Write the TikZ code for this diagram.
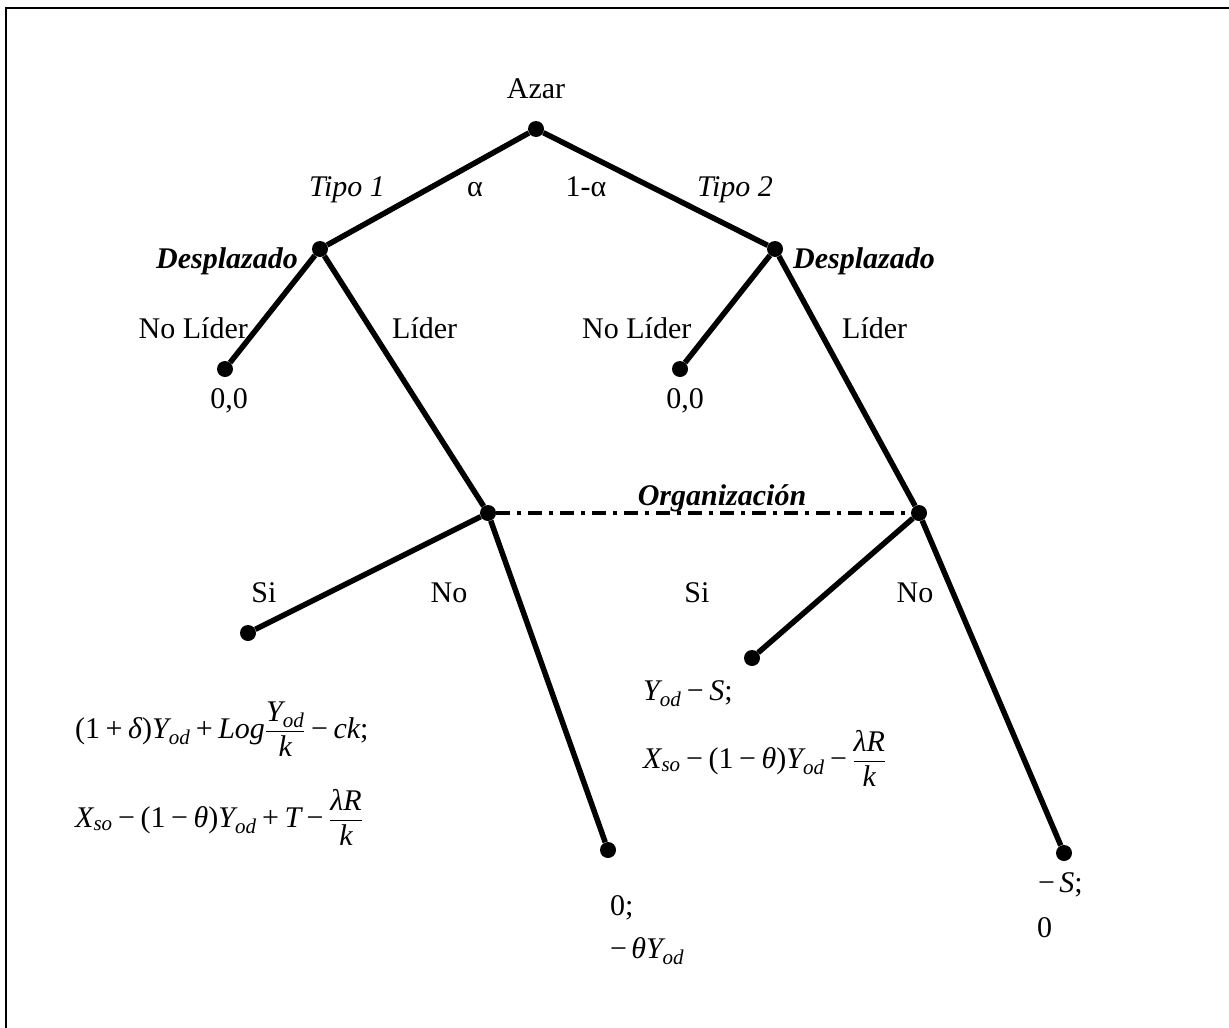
\documentclass[tikz,border=0pt]{standalone}
\usepackage{amsmath}
\usepackage{fontspec}
\setmainfont{Liberation Serif}
\newcommand{\ti}[1]{\textit{#1}}
\newcommand{\mmin}{\mathbin{\text{−}}}
\newcommand{\mplus}{\mathbin{\text{+}}}
\tikzset{
  dot/.style={circle,fill=black,draw=none,inner sep=0pt,minimum size=16pt},
  edge/.style={line width=5.5pt},
  lbl/.style={inner sep=0pt,font=\fontsize{30}{36}\selectfont},
  plbl/.style={lbl,font=\fontsize{30}{36}\selectfont\bfseries\itshape},
  frameline/.style={line width=2pt},
  infoset/.style={line width=3.5pt,dash pattern=on 14pt off 7pt on 4pt off 7pt}
}
\begin{document}
\begin{tikzpicture}[x=1pt,y=-1pt]
\useasboundingbox (0,0) rectangle (1229,1028);
\draw[frameline] (6,1028) -- (6,8) -- (1229,8);
% decision nodes
\node[dot] (root) at (536,129) {};
\node[dot] (d1) at (320,249) {};
\node[dot] (d2) at (775,249) {};
\node[dot] (l1) at (225,369) {};
\node[dot] (l2) at (680,369) {};
\node[dot] (o1) at (488,513) {};
\node[dot] (o2) at (919,513) {};
\node[dot] (s1) at (248,633) {};
\node[dot] (n1) at (608,850) {};
\node[dot] (s2) at (752,658) {};
\node[dot] (n2) at (1064,853) {};
% edges
\draw[edge] (root) -- (d1);
\draw[edge] (root) -- (d2);
\draw[edge] (d1) -- (l1);
\draw[edge] (d1) -- (o1);
\draw[edge] (d2) -- (l2);
\draw[edge] (d2) -- (o2);
\draw[edge] (o1) -- (s1);
\draw[edge] (o1) -- (n1);
\draw[edge] (o2) -- (s2);
\draw[edge] (o2) -- (n2);
\draw[infoset] (o1) -- (o2);
% labels
\node[lbl,anchor=base] (azar) at (536,98) {Azar};
\node[lbl,anchor=base] (tipo1) at (347,196) {\itshape Tipo 1};
\node[lbl,anchor=base] (alpha) at (475,196) {α};
\node[lbl,anchor=base] (ualpha) at (586,196) {1-α};
\node[lbl,anchor=base] (tipo2) at (735,196) {\itshape Tipo 2};
\node[plbl,anchor=base east] (desp1) at (298,268) {Desplazado};
\node[plbl,anchor=base west] (desp2) at (793,268) {Desplazado};
\node[lbl,anchor=base east] (nl1) at (248,338) {No Líder};
\node[lbl,anchor=base west] (li1) at (392,338) {Líder};
\node[lbl,anchor=base west] (nl2) at (582,338) {No Líder};
\node[lbl,anchor=base west] (li2) at (842,338) {Líder};
\node[lbl,anchor=base] (p1) at (229,408) {0,0};
\node[lbl,anchor=base] (p2) at (685,408) {0,0};
\node[plbl,anchor=base] (org) at (722,505) {Organización};
\node[lbl,anchor=base] (si1) at (264,602) {Si};
\node[lbl,anchor=base] (no1) at (449,602) {No};
\node[lbl,anchor=base] (si2) at (697,602) {Si};
\node[lbl,anchor=base] (no2) at (915,602) {No};
% payoffs
\node[lbl,anchor=base west] (pa1) at (75,738)
 {$\text{(1}\mplus\ti{δ}\text{)}\ti{Y}_{\ti{od}}\mplus\ti{Log}\dfrac{\ti{Y}_{\ti{od}}}{\ti{k}}\mmin\ti{ck}\text{;}$};
\node[lbl,anchor=base west] (pa2) at (75,827)
 {$\ti{X}_{\ti{so}}\mmin\text{(1}\mmin\ti{θ}\text{)}\ti{Y}_{\ti{od}}\mplus\ti{T}\mmin\dfrac{\ti{λR}}{\ti{k}}$};
\node[lbl,anchor=base west] (pb1) at (643,700)
 {$\ti{Y}_{\ti{od}}\mmin\ti{S}\text{;}$};
\node[lbl,anchor=base west] (pb2) at (643,768)
 {$\ti{X}_{\ti{so}}\mmin\text{(1}\mmin\ti{θ}\text{)}\ti{Y}_{\ti{od}}\mmin\dfrac{\ti{λR}}{\ti{k}}$};
\node[lbl,anchor=base west] (pc1) at (610,915) {0;};
\node[lbl,anchor=base west] (pc2) at (610,958) {$\text{−}\,\ti{θ}\ti{Y}_{\ti{od}}$};
\node[lbl,anchor=base west] (pd1) at (1038,892) {$\text{−}\,\ti{S}\text{;}$};
\node[lbl,anchor=base west] (pd2) at (1037,937) {0};
\end{tikzpicture}
\end{document}
